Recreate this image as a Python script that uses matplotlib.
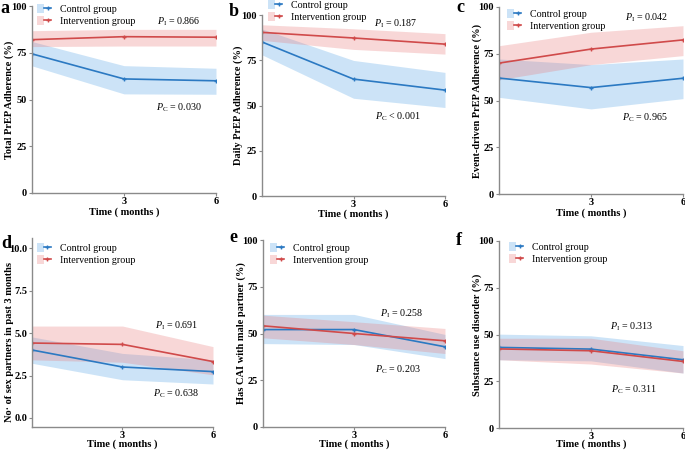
import matplotlib
matplotlib.use("Agg")
import matplotlib.pyplot as plt
from matplotlib.patches import Patch
from matplotlib.lines import Line2D
from matplotlib.legend_handler import HandlerTuple

plt.rcParams['font.family'] = ['Liberation Serif', 'DejaVu Serif']
plt.rcParams['mathtext.fontset'] = 'custom'
plt.rcParams['mathtext.it'] = 'Liberation Serif:italic'
plt.rcParams['mathtext.rm'] = 'Liberation Serif'

time = [0, 3, 6]
x_ticks = [3, 6]

# panel a
a_ctrl = [74.4, 61.0, 60.0]
a_ctrl_lo = [68.0, 53.0, 52.8]
a_ctrl_hi = [81.0, 68.1, 66.7]
a_int = [82.0, 83.6, 83.3]
a_int_lo = [78.3, 78.6, 78.6]
a_int_hi = [86.8, 87.5, 87.5]
# panel b
b_ctrl = [85.1, 64.6, 58.5]
b_ctrl_lo = [78.0, 54.0, 48.9]
b_ctrl_hi = [92.3, 74.9, 68.3]
b_int = [90.4, 87.3, 83.9]
b_int_lo = [86.0, 81.0, 78.4]
b_int_hi = [94.6, 92.4, 89.7]
# panel c
c_ctrl = [62.0, 56.9, 61.9]
c_ctrl_lo = [51.7, 45.5, 51.0]
c_ctrl_hi = [72.2, 69.2, 72.2]
c_int = [70.0, 77.5, 82.4]
c_int_lo = [61.1, 69.2, 74.0]
c_int_hi = [79.3, 86.5, 90.0]
# panel d
d_ctrl = [4.0, 3.0, 2.73]
d_ctrl_lo = [3.22, 2.25, 2.0]
d_ctrl_hi = [4.77, 3.8, 3.42]
d_int = [4.41, 4.33, 3.32]
d_int_lo = [3.42, 3.28, 2.54]
d_int_hi = [5.41, 5.41, 4.2]
# panel e
e_ctrl = [52.1, 52.1, 42.9]
e_ctrl_lo = [44.6, 44.1, 36.6]
e_ctrl_hi = [60.2, 60.2, 49.5]
e_int = [54.1, 50.0, 46.1]
e_int_lo = [47.7, 44.1, 39.3]
e_int_hi = [59.8, 56.3, 52.7]
# panel f
f_ctrl = [43.1, 42.2, 36.5]
f_ctrl_lo = [36.5, 35.9, 29.4]
f_ctrl_hi = [50.2, 49.3, 44.1]
f_int = [42.3, 41.3, 35.6]
f_int_lo = [36.5, 34.2, 29.4]
f_int_hi = [48.0, 48.0, 41.3]

pct_ticks = [0, 25, 50, 75, 100]
pct_labels = ["0", "25", "50", "75", "100"]
cnt_ticks = [0, 2.5, 5.0, 7.5, 10.0]
cnt_labels = ["0.0", "2.5", "5.0", "7.5", "10.0"]

ylabels = ["Total PrEP Adherence (%)", "Daily PrEP Adherence (%)",
           "Event-driven PrEP Adherence (%)", "No\u00b7 of sex partners in past 3 months",
           "Has CAI with male partner (%)", "Substance use disorder (%)"]
letters = ["a", "b", "c", "d", "e", "f"]
p_int = ["0.866", "0.187", "0.042", "0.691", "0.258", "0.313"]
p_ctrl = ["= 0.030", "< 0.001", "= 0.965", "= 0.638", "= 0.203", "= 0.311"]
legend_labels = ["Control group", "Intervention group"]

W, H = 685, 450
BLUE = "#2b79c2"
BLUE_F = "#56a5e6"
RED = "#d04a4a"
RED_F = "#e87d7d"
FA = 0.3

# layout in pixels: left, right, top, bottom
boxes = [(32, 216, 6, 193), (262, 445, 15, 196), (499, 683, 7, 194),
         (32, 213, 238, 427), (263, 445, 240, 427), (499, 683, 241, 428)]
ylims = [(0, 100), (0, 100), (0, 100), (-0.53, 10.59), (0, 100), (0, 100)]
ylab_x = [9, 238, 477, 10, 241, 477]
ylab_yc = [0.5, 0.5, 0.5, 0.45, 0.5, 0.5]
xlab_y = [212, 214, 213, 444.5, 444.5, 444.5]
letter_pos = [(0, 0), (229, 3), (456, -1), (1, 235), (229, 229), (456, 232)]
leg_off_x = [5, 6, 8, 5, 7, 10]
leg_row1_y = [10, 6, 15, 249, 249, 248]
pI_pos = [(4.8, 91.4), (4.4, 95), (4.8, 94), (4.8, 5.4), (4.58, 60.4), (4.34, 54)]
pC_pos = [(4.8, 45.5), (4.46, 43.6), (4.76, 41), (4.77, 1.4), (4.45, 30.5), (4.4, 20.3)]

data = [
    (a_ctrl, a_ctrl_lo, a_ctrl_hi, a_int, a_int_lo, a_int_hi),
    (b_ctrl, b_ctrl_lo, b_ctrl_hi, b_int, b_int_lo, b_int_hi),
    (c_ctrl, c_ctrl_lo, c_ctrl_hi, c_int, c_int_lo, c_int_hi),
    (d_ctrl, d_ctrl_lo, d_ctrl_hi, d_int, d_int_lo, d_int_hi),
    (e_ctrl, e_ctrl_lo, e_ctrl_hi, e_int, e_int_lo, e_int_hi),
    (f_ctrl, f_ctrl_lo, f_ctrl_hi, f_int, f_int_lo, f_int_hi),
]

FS_TICK = 7.5
FS_LAB = 7.5
FS_LEG = 7.2
FS_P = 7.2

fig = plt.figure(figsize=(W / 100, H / 100), dpi=100)

for i in range(6):
    l, r, t, b = boxes[i]
    w, h = r - l, b - t
    ax = fig.add_axes([l / W, (H - b) / H, w / W, h / H])
    ctrl, clo, chi, itv, ilo, ihi = data[i]
    ax.fill_between(time, clo, chi, color=BLUE_F, alpha=FA, lw=0)
    ax.fill_between(time, ilo, ihi, color=RED_F, alpha=FA, lw=0)
    ax.plot(time, ctrl, color=BLUE, lw=1.2, marker='+', ms=3.5, mew=1.0)
    ax.plot(time, itv, color=RED, lw=1.2, marker='+', ms=3.5, mew=1.0)
    ax.set_xlim(0, 6)
    ax.set_ylim(*ylims[i])
    if i == 3:
        ax.set_yticks(cnt_ticks)
        ax.set_yticklabels(cnt_labels)
    else:
        ax.set_yticks(pct_ticks)
        ax.set_yticklabels(pct_labels)
    ax.set_xticks(x_ticks)
    ax.set_xticklabels([str(v) for v in x_ticks])
    for s in ["top", "right"]:
        ax.spines[s].set_visible(False)
    for s in ["left", "bottom"]:
        ax.spines[s].set_color("#8a8a8a")
        ax.spines[s].set_linewidth(1.0)
    ax.tick_params(axis='both', length=2.0, width=0.8, color="#8a8a8a", pad=1.5,
                   labelsize=FS_TICK)
    ax.tick_params(axis='x', pad=0.8)
    for lab in ax.get_xticklabels() + ax.get_yticklabels():
        lab.set_fontweight('bold')
    ax.set_xlabel("Time ( months )", fontsize=FS_LAB, fontweight='bold', va='center')
    ax.xaxis.set_label_coords(0.5, -(xlab_y[i] - b) / h)
    ax.set_ylabel(ylabels[i], fontsize=FS_LAB, fontweight='bold', va='center')
    ax.yaxis.set_label_coords((ylab_x[i] - l) / w, ylab_yc[i])
    # legend
    h1 = (Patch(facecolor=BLUE_F, alpha=FA, edgecolor='none'),
          Line2D([], [], color=BLUE, lw=1.2, marker='+', ms=3.5))
    h2 = (Patch(facecolor=RED_F, alpha=FA, edgecolor='none'),
          Line2D([], [], color=RED, lw=1.2, marker='+', ms=3.5))
    fs_px = FS_LEG * 100 / 72
    pad_px = 0.4 * fs_px
    anchor_x = (leg_off_x[i] - pad_px) / w
    anchor_y = 1 + (t - (leg_row1_y[i] - pad_px - 0.5 * fs_px * 1.2)) / h
    ax.legend([h1, h2], legend_labels, handler_map={tuple: HandlerTuple(ndivide=None, pad=0)},
              loc='upper left', bbox_to_anchor=(anchor_x, anchor_y), frameon=False,
              fontsize=FS_LEG, handlelength=1.4, handleheight=1.0, handletextpad=0.9,
              labelspacing=0.2, borderaxespad=0.0, borderpad=0.4)
    ax.text(pI_pos[i][0], pI_pos[i][1], r"$P_{\mathrm{I}}$" + " = " + p_int[i],
            ha='center', va='center', fontsize=FS_P)
    ax.text(pC_pos[i][0], pC_pos[i][1], r"$P_{\mathrm{C}}$" + " " + p_ctrl[i],
            ha='center', va='center', fontsize=FS_P)
    fig.text(letter_pos[i][0] / W, 1 - letter_pos[i][1] / H, letters[i],
             fontsize=13, fontweight='bold', ha='left', va='top')

fig.savefig("out.png", dpi=100)
